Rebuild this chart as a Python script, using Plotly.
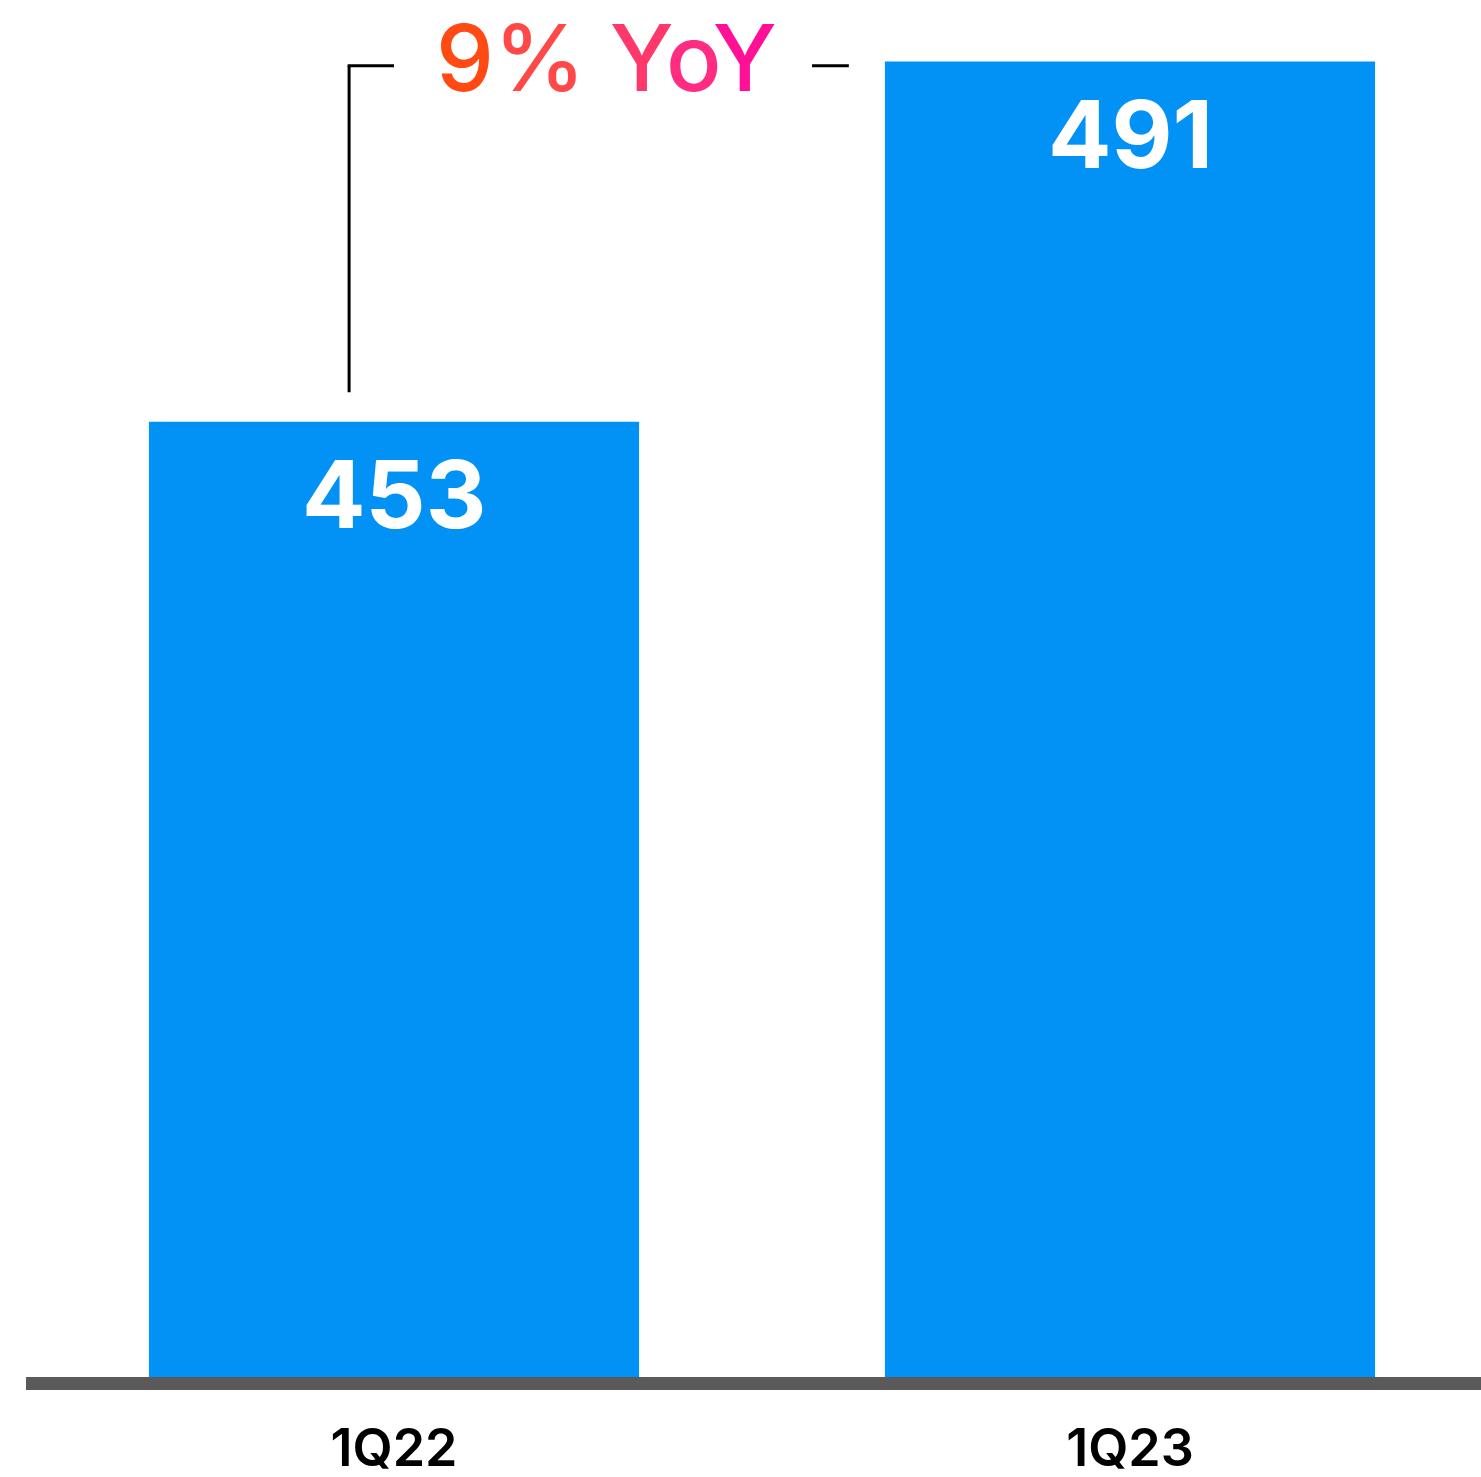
import plotly.graph_objects as go

# ---- data ----
categories = ["1Q22", "1Q23"]
values = [453, 491]
growth_text = "9% YoY"
growth_colors = ["#FF4A14", "#FF4848", None, "#FF386C", "#FF2C82", "#FF1097"]

BAR_COLOR = "#0292F5"
AXIS_COLOR = "#5A5A5A"
FONT = "Inter"

fig = go.Figure()
fig.add_trace(go.Bar(
    x=categories, y=values,
    marker=dict(color=BAR_COLOR, line=dict(width=0)),
    width=0.666, hoverinfo="skip",
))

# value labels inside bar tops
for c, v in zip(categories, values):
    fig.add_annotation(
        x=c, y=v, xref="x", yref="y", yanchor="top", yshift=-13,
        text=f"<b>{v}</b>", showarrow=False,
        font=dict(family=FONT, size=94, color="white", weight=700),
    )

# growth bracket
y_lo = values[0] + 3.1
y_hi = values[1] - 0.45
bx0 = -0.061
bx1 = 0.0
dx0 = 0.568
dx1 = 0.618
line_style = dict(color="black", width=3)
fig.add_shape(type="line", xref="x", yref="y", x0=bx0, x1=bx0, y0=y_lo, y1=y_hi, line=line_style)
fig.add_shape(type="line", xref="x", yref="y", x0=bx0 - 0.002, x1=bx1, y0=y_hi, y1=y_hi, line=line_style)
fig.add_shape(type="line", xref="x", yref="y", x0=dx0, x1=dx1, y0=y_hi, y1=y_hi, line=line_style)

parts = []
for ch, col in zip(growth_text, growth_colors):
    if col is None:
        parts.append(" ")
    else:
        parts.append(f'<span style="color:{col}">{ch}</span>')
fig.add_annotation(
    x=(bx0 + dx1) / 2 + 0.01, y=y_hi, xref="x", yref="y", yanchor="middle", yshift=8,
    text="".join(parts), showarrow=False,
    font=dict(family=FONT, size=92, weight=500),
)

fig.update_layout(
    width=1481, height=1477,
    margin=dict(l=26, r=0, t=0, b=100, pad=0, autoexpand=False),
    plot_bgcolor="white", paper_bgcolor="white",
    showlegend=False,
    xaxis=dict(
        range=[-0.5, 1.4769], showgrid=False, zeroline=False, automargin=False,
        showline=True, linewidth=13, linecolor=AXIS_COLOR,
        ticks="", ticklabelstandoff=14,
        tickfont=dict(family=FONT, size=52, color="black", weight=600),
    ),
    yaxis=dict(
        range=[352.2, 497.5], visible=False, showgrid=False, zeroline=False,
        automargin=False,
    ),
)

fig.write_html("out.html", config={"displayModeBar": False},
               post_script="document.body.style.margin='0';")
